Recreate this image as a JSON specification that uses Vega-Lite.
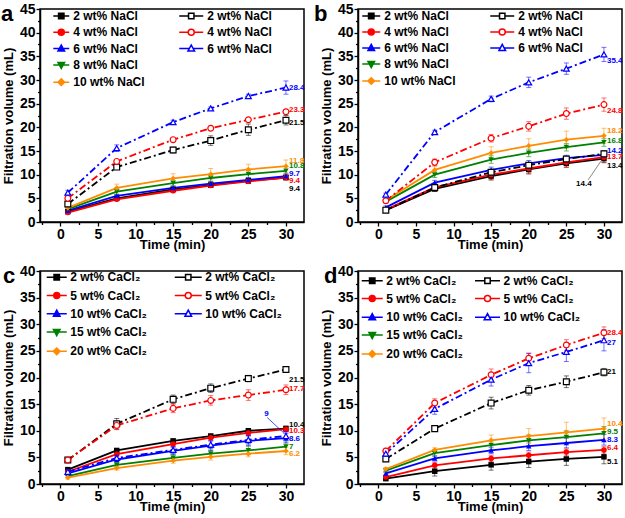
{
"$schema": "https://vega.github.io/schema/vega-lite/v6.json",
"background": "white",
"padding": {"left": 0, "top": 1, "right": 0, "bottom": 0},
"columns": 2,
"spacing": {"row": 49, "column": 54},
"bounds": "flush",
"config": {
  "font": "Liberation Sans",
  "view": {"stroke": "black", "strokeWidth": 1.5},
  "axis": {"domainColor": "black", "domainWidth": 1.5, "tickColor": "black", "tickWidth": 1.3, "labelColor": "black", "labelFont": "Liberation Sans", "labelFontWeight": "bold", "labelFontSize": 14, "titleFont": "Liberation Sans", "titleFontWeight": "bold", "titleFontSize": 13, "titleColor": "black", "grid": false, "labelOverlap": false, "labelFlush": false, "labelPadding": 1},
  "legend": {"labelFont": "Liberation Sans", "labelFontWeight": "bold", "labelFontSize": 12, "labelColor": "black", "padding": 0, "symbolSize": 144, "symbolStrokeWidth": 1.5, "symbolOpacity": 1, "symbolOffset": 0, "title": null, "orient": "none", "columns": 2},
  "title": {"font": "Liberation Sans", "fontSize": 22, "fontWeight": "bold", "color": "black", "anchor": "start", "frame": "group", "baseline": "alphabetic", "offset": -24},
  "text": {"font": "Liberation Sans"}
},
"datasets": {
"pts": [
{"p":"a","g":"s","s":"2 wt% NaCl","t":1,"v":2.2,"e":0.2},{"p":"a","g":"s","s":"2 wt% NaCl","t":7.5,"v":5.0,"e":0.3},{"p":"a","g":"s","s":"2 wt% NaCl","t":15,"v":6.9,"e":0.4},{"p":"a","g":"s","s":"2 wt% NaCl","t":20,"v":7.8,"e":0.4},{"p":"a","g":"s","s":"2 wt% NaCl","t":25,"v":8.7,"e":0.5},{"p":"a","g":"s","s":"2 wt% NaCl","t":30,"v":9.4,"e":0.5},
{"p":"a","g":"s","s":"4 wt% NaCl","t":1,"v":2.0,"e":0.2},{"p":"a","g":"s","s":"4 wt% NaCl","t":7.5,"v":4.8,"e":0.3},{"p":"a","g":"s","s":"4 wt% NaCl","t":15,"v":6.6,"e":0.4},{"p":"a","g":"s","s":"4 wt% NaCl","t":20,"v":7.7,"e":0.4},{"p":"a","g":"s","s":"4 wt% NaCl","t":25,"v":8.6,"e":0.5},{"p":"a","g":"s","s":"4 wt% NaCl","t":30,"v":9.4,"e":0.5},
{"p":"a","g":"s","s":"6 wt% NaCl","t":1,"v":2.4,"e":0.2},{"p":"a","g":"s","s":"6 wt% NaCl","t":7.5,"v":5.5,"e":0.3},{"p":"a","g":"s","s":"6 wt% NaCl","t":15,"v":7.2,"e":0.4},{"p":"a","g":"s","s":"6 wt% NaCl","t":20,"v":8.1,"e":0.4},{"p":"a","g":"s","s":"6 wt% NaCl","t":25,"v":8.9,"e":0.5},{"p":"a","g":"s","s":"6 wt% NaCl","t":30,"v":9.7,"e":0.5},
{"p":"a","g":"s","s":"8 wt% NaCl","t":1,"v":2.7,"e":0.3},{"p":"a","g":"s","s":"8 wt% NaCl","t":7.5,"v":6.4,"e":0.5},{"p":"a","g":"s","s":"8 wt% NaCl","t":15,"v":8.2,"e":0.6},{"p":"a","g":"s","s":"8 wt% NaCl","t":20,"v":9.3,"e":0.7},{"p":"a","g":"s","s":"8 wt% NaCl","t":25,"v":10.1,"e":0.8},{"p":"a","g":"s","s":"8 wt% NaCl","t":30,"v":10.8,"e":0.9},
{"p":"a","g":"s","s":"10 wt% NaCl","t":1,"v":3.0,"e":0.3},{"p":"a","g":"s","s":"10 wt% NaCl","t":7.5,"v":7.2,"e":0.8},{"p":"a","g":"s","s":"10 wt% NaCl","t":15,"v":9.2,"e":1.0},{"p":"a","g":"s","s":"10 wt% NaCl","t":20,"v":10.1,"e":1.2},{"p":"a","g":"s","s":"10 wt% NaCl","t":25,"v":11.1,"e":1.1},{"p":"a","g":"s","s":"10 wt% NaCl","t":30,"v":11.8,"e":1.3},
{"p":"a","g":"o","s":"2 wt% NaCl","t":1,"v":3.8,"e":0.3},{"p":"a","g":"o","s":"2 wt% NaCl","t":7.5,"v":11.6,"e":0.5},{"p":"a","g":"o","s":"2 wt% NaCl","t":15,"v":15.2,"e":0.6},{"p":"a","g":"o","s":"2 wt% NaCl","t":20,"v":17.2,"e":1.0},{"p":"a","g":"o","s":"2 wt% NaCl","t":25,"v":19.5,"e":1.2},{"p":"a","g":"o","s":"2 wt% NaCl","t":30,"v":21.5,"e":1.0},
{"p":"a","g":"o","s":"4 wt% NaCl","t":1,"v":5.0,"e":0.3},{"p":"a","g":"o","s":"4 wt% NaCl","t":7.5,"v":12.8,"e":0.3},{"p":"a","g":"o","s":"4 wt% NaCl","t":15,"v":17.4,"e":0.4},{"p":"a","g":"o","s":"4 wt% NaCl","t":20,"v":19.8,"e":0.4},{"p":"a","g":"o","s":"4 wt% NaCl","t":25,"v":21.6,"e":0.3},{"p":"a","g":"o","s":"4 wt% NaCl","t":30,"v":23.3,"e":0.4},
{"p":"a","g":"o","s":"6 wt% NaCl","t":1,"v":6.2,"e":0.5},{"p":"a","g":"o","s":"6 wt% NaCl","t":7.5,"v":15.6,"e":0.7},{"p":"a","g":"o","s":"6 wt% NaCl","t":15,"v":21.1,"e":0.4},{"p":"a","g":"o","s":"6 wt% NaCl","t":20,"v":24.0,"e":0.3},{"p":"a","g":"o","s":"6 wt% NaCl","t":25,"v":26.6,"e":0.4},{"p":"a","g":"o","s":"6 wt% NaCl","t":30,"v":28.4,"e":1.4},

{"p":"b","g":"s","s":"2 wt% NaCl","t":1,"v":2.5,"e":0.3},{"p":"b","g":"s","s":"2 wt% NaCl","t":7.5,"v":7.0,"e":0.5},{"p":"b","g":"s","s":"2 wt% NaCl","t":15,"v":9.7,"e":0.8},{"p":"b","g":"s","s":"2 wt% NaCl","t":20,"v":11.1,"e":0.8},{"p":"b","g":"s","s":"2 wt% NaCl","t":25,"v":12.4,"e":0.8},{"p":"b","g":"s","s":"2 wt% NaCl","t":30,"v":13.4,"e":0.8},
{"p":"b","g":"s","s":"4 wt% NaCl","t":1,"v":2.6,"e":0.3},{"p":"b","g":"s","s":"4 wt% NaCl","t":7.5,"v":7.3,"e":0.8},{"p":"b","g":"s","s":"4 wt% NaCl","t":15,"v":10.0,"e":1.1},{"p":"b","g":"s","s":"4 wt% NaCl","t":20,"v":11.3,"e":1.2},{"p":"b","g":"s","s":"4 wt% NaCl","t":25,"v":12.6,"e":1.1},{"p":"b","g":"s","s":"4 wt% NaCl","t":30,"v":13.7,"e":1.2},
{"p":"b","g":"s","s":"6 wt% NaCl","t":1,"v":3.1,"e":0.3},{"p":"b","g":"s","s":"6 wt% NaCl","t":7.5,"v":8.3,"e":0.5},{"p":"b","g":"s","s":"6 wt% NaCl","t":15,"v":11.0,"e":0.6},{"p":"b","g":"s","s":"6 wt% NaCl","t":20,"v":12.4,"e":0.6},{"p":"b","g":"s","s":"6 wt% NaCl","t":25,"v":13.5,"e":0.6},{"p":"b","g":"s","s":"6 wt% NaCl","t":30,"v":14.2,"e":0.8},
{"p":"b","g":"s","s":"8 wt% NaCl","t":1,"v":4.3,"e":0.3},{"p":"b","g":"s","s":"8 wt% NaCl","t":7.5,"v":10.0,"e":0.6},{"p":"b","g":"s","s":"8 wt% NaCl","t":15,"v":13.2,"e":0.8},{"p":"b","g":"s","s":"8 wt% NaCl","t":20,"v":14.6,"e":0.8},{"p":"b","g":"s","s":"8 wt% NaCl","t":25,"v":15.8,"e":0.8},{"p":"b","g":"s","s":"8 wt% NaCl","t":30,"v":16.8,"e":0.8},
{"p":"b","g":"s","s":"10 wt% NaCl","t":1,"v":4.6,"e":0.3},{"p":"b","g":"s","s":"10 wt% NaCl","t":7.5,"v":11.0,"e":0.8},{"p":"b","g":"s","s":"10 wt% NaCl","t":15,"v":14.6,"e":1.3},{"p":"b","g":"s","s":"10 wt% NaCl","t":20,"v":16.1,"e":1.5},{"p":"b","g":"s","s":"10 wt% NaCl","t":25,"v":17.4,"e":1.8},{"p":"b","g":"s","s":"10 wt% NaCl","t":30,"v":18.2,"e":1.6},
{"p":"b","g":"o","s":"2 wt% NaCl","t":1,"v":2.5,"e":0.3},{"p":"b","g":"o","s":"2 wt% NaCl","t":7.5,"v":7.3,"e":0.4},{"p":"b","g":"o","s":"2 wt% NaCl","t":15,"v":10.5,"e":0.5},{"p":"b","g":"o","s":"2 wt% NaCl","t":20,"v":12.0,"e":0.5},{"p":"b","g":"o","s":"2 wt% NaCl","t":25,"v":13.3,"e":0.5},{"p":"b","g":"o","s":"2 wt% NaCl","t":30,"v":14.4,"e":0.6},
{"p":"b","g":"o","s":"4 wt% NaCl","t":1,"v":4.5,"e":0.4},{"p":"b","g":"o","s":"4 wt% NaCl","t":7.5,"v":12.6,"e":0.7},{"p":"b","g":"o","s":"4 wt% NaCl","t":15,"v":17.7,"e":0.8},{"p":"b","g":"o","s":"4 wt% NaCl","t":20,"v":20.2,"e":1.0},{"p":"b","g":"o","s":"4 wt% NaCl","t":25,"v":22.9,"e":1.2},{"p":"b","g":"o","s":"4 wt% NaCl","t":30,"v":24.8,"e":1.4},
{"p":"b","g":"o","s":"6 wt% NaCl","t":1,"v":5.8,"e":0.3},{"p":"b","g":"o","s":"6 wt% NaCl","t":7.5,"v":19.0,"e":0.4},{"p":"b","g":"o","s":"6 wt% NaCl","t":15,"v":26.0,"e":0.6},{"p":"b","g":"o","s":"6 wt% NaCl","t":20,"v":29.5,"e":1.1},{"p":"b","g":"o","s":"6 wt% NaCl","t":25,"v":32.4,"e":1.2},{"p":"b","g":"o","s":"6 wt% NaCl","t":30,"v":35.4,"e":1.5},

{"p":"c","g":"s","s":"2 wt% CaCl₂","t":1,"v":2.7,"e":0.2},{"p":"c","g":"s","s":"2 wt% CaCl₂","t":7.5,"v":6.3,"e":0.3},{"p":"c","g":"s","s":"2 wt% CaCl₂","t":15,"v":8.1,"e":0.3},{"p":"c","g":"s","s":"2 wt% CaCl₂","t":20,"v":9.0,"e":0.4},{"p":"c","g":"s","s":"2 wt% CaCl₂","t":25,"v":10.0,"e":0.4},{"p":"c","g":"s","s":"2 wt% CaCl₂","t":30,"v":10.4,"e":0.5},
{"p":"c","g":"s","s":"5 wt% CaCl₂","t":1,"v":2.3,"e":0.2},{"p":"c","g":"s","s":"5 wt% CaCl₂","t":7.5,"v":5.6,"e":0.3},{"p":"c","g":"s","s":"5 wt% CaCl₂","t":15,"v":7.5,"e":0.4},{"p":"c","g":"s","s":"5 wt% CaCl₂","t":20,"v":8.7,"e":0.4},{"p":"c","g":"s","s":"5 wt% CaCl₂","t":25,"v":9.6,"e":0.5},{"p":"c","g":"s","s":"5 wt% CaCl₂","t":30,"v":10.3,"e":0.5},
{"p":"c","g":"s","s":"10 wt% CaCl₂","t":1,"v":2.0,"e":0.3},{"p":"c","g":"s","s":"10 wt% CaCl₂","t":7.5,"v":4.6,"e":0.5},{"p":"c","g":"s","s":"10 wt% CaCl₂","t":15,"v":6.2,"e":0.7},{"p":"c","g":"s","s":"10 wt% CaCl₂","t":20,"v":7.2,"e":0.9},{"p":"c","g":"s","s":"10 wt% CaCl₂","t":25,"v":8.1,"e":0.9},{"p":"c","g":"s","s":"10 wt% CaCl₂","t":30,"v":8.6,"e":0.9},
{"p":"c","g":"s","s":"15 wt% CaCl₂","t":1,"v":1.5,"e":0.3},{"p":"c","g":"s","s":"15 wt% CaCl₂","t":7.5,"v":3.6,"e":0.4},{"p":"c","g":"s","s":"15 wt% CaCl₂","t":15,"v":4.9,"e":0.6},{"p":"c","g":"s","s":"15 wt% CaCl₂","t":20,"v":5.7,"e":0.7},{"p":"c","g":"s","s":"15 wt% CaCl₂","t":25,"v":6.3,"e":0.8},{"p":"c","g":"s","s":"15 wt% CaCl₂","t":30,"v":7.0,"e":0.9},
{"p":"c","g":"s","s":"20 wt% CaCl₂","t":1,"v":1.2,"e":0.3},{"p":"c","g":"s","s":"20 wt% CaCl₂","t":7.5,"v":3.0,"e":0.4},{"p":"c","g":"s","s":"20 wt% CaCl₂","t":15,"v":4.4,"e":0.5},{"p":"c","g":"s","s":"20 wt% CaCl₂","t":20,"v":5.1,"e":0.6},{"p":"c","g":"s","s":"20 wt% CaCl₂","t":25,"v":5.7,"e":0.6},{"p":"c","g":"s","s":"20 wt% CaCl₂","t":30,"v":6.2,"e":0.7},
{"p":"c","g":"o","s":"2 wt% CaCl₂","t":1,"v":4.5,"e":0.3},{"p":"c","g":"o","s":"2 wt% CaCl₂","t":7.5,"v":11.3,"e":1.0},{"p":"c","g":"o","s":"2 wt% CaCl₂","t":15,"v":15.9,"e":0.8},{"p":"c","g":"o","s":"2 wt% CaCl₂","t":20,"v":18.0,"e":0.8},{"p":"c","g":"o","s":"2 wt% CaCl₂","t":25,"v":19.8,"e":0.6},{"p":"c","g":"o","s":"2 wt% CaCl₂","t":30,"v":21.5,"e":0.4},
{"p":"c","g":"o","s":"5 wt% CaCl₂","t":1,"v":4.5,"e":0.3},{"p":"c","g":"o","s":"5 wt% CaCl₂","t":7.5,"v":11.0,"e":0.8},{"p":"c","g":"o","s":"5 wt% CaCl₂","t":15,"v":14.2,"e":0.8},{"p":"c","g":"o","s":"5 wt% CaCl₂","t":20,"v":15.7,"e":0.9},{"p":"c","g":"o","s":"5 wt% CaCl₂","t":25,"v":16.7,"e":1.0},{"p":"c","g":"o","s":"5 wt% CaCl₂","t":30,"v":17.7,"e":0.9},
{"p":"c","g":"o","s":"10 wt% CaCl₂","t":1,"v":2.3,"e":0.3},{"p":"c","g":"o","s":"10 wt% CaCl₂","t":7.5,"v":4.9,"e":0.5},{"p":"c","g":"o","s":"10 wt% CaCl₂","t":15,"v":6.4,"e":0.6},{"p":"c","g":"o","s":"10 wt% CaCl₂","t":20,"v":7.4,"e":0.7},{"p":"c","g":"o","s":"10 wt% CaCl₂","t":25,"v":8.3,"e":0.8},{"p":"c","g":"o","s":"10 wt% CaCl₂","t":30,"v":9.0,"e":0.8},

{"p":"d","g":"s","s":"2 wt% CaCl₂","t":1,"v":1.0,"e":0.3},{"p":"d","g":"s","s":"2 wt% CaCl₂","t":7.5,"v":2.4,"e":0.9},{"p":"d","g":"s","s":"2 wt% CaCl₂","t":15,"v":3.6,"e":1.0},{"p":"d","g":"s","s":"2 wt% CaCl₂","t":20,"v":4.2,"e":1.1},{"p":"d","g":"s","s":"2 wt% CaCl₂","t":25,"v":4.7,"e":1.2},{"p":"d","g":"s","s":"2 wt% CaCl₂","t":30,"v":5.1,"e":1.3},
{"p":"d","g":"s","s":"5 wt% CaCl₂","t":1,"v":1.3,"e":0.3},{"p":"d","g":"s","s":"5 wt% CaCl₂","t":7.5,"v":3.5,"e":0.5},{"p":"d","g":"s","s":"5 wt% CaCl₂","t":15,"v":4.8,"e":0.6},{"p":"d","g":"s","s":"5 wt% CaCl₂","t":20,"v":5.4,"e":0.6},{"p":"d","g":"s","s":"5 wt% CaCl₂","t":25,"v":6.0,"e":0.6},{"p":"d","g":"s","s":"5 wt% CaCl₂","t":30,"v":6.4,"e":0.6},
{"p":"d","g":"s","s":"10 wt% CaCl₂","t":1,"v":2.0,"e":0.3},{"p":"d","g":"s","s":"10 wt% CaCl₂","t":7.5,"v":4.8,"e":0.5},{"p":"d","g":"s","s":"10 wt% CaCl₂","t":15,"v":6.3,"e":0.6},{"p":"d","g":"s","s":"10 wt% CaCl₂","t":20,"v":7.1,"e":0.8},{"p":"d","g":"s","s":"10 wt% CaCl₂","t":25,"v":7.7,"e":0.9},{"p":"d","g":"s","s":"10 wt% CaCl₂","t":30,"v":8.3,"e":1.0},
{"p":"d","g":"s","s":"15 wt% CaCl₂","t":1,"v":2.5,"e":0.3},{"p":"d","g":"s","s":"15 wt% CaCl₂","t":7.5,"v":5.8,"e":0.6},{"p":"d","g":"s","s":"15 wt% CaCl₂","t":15,"v":7.3,"e":0.8},{"p":"d","g":"s","s":"15 wt% CaCl₂","t":20,"v":8.2,"e":1.0},{"p":"d","g":"s","s":"15 wt% CaCl₂","t":25,"v":8.8,"e":1.2},{"p":"d","g":"s","s":"15 wt% CaCl₂","t":30,"v":9.5,"e":1.3},
{"p":"d","g":"s","s":"20 wt% CaCl₂","t":1,"v":2.8,"e":0.3},{"p":"d","g":"s","s":"20 wt% CaCl₂","t":7.5,"v":6.4,"e":0.4},{"p":"d","g":"s","s":"20 wt% CaCl₂","t":15,"v":8.2,"e":1.0},{"p":"d","g":"s","s":"20 wt% CaCl₂","t":20,"v":9.0,"e":1.4},{"p":"d","g":"s","s":"20 wt% CaCl₂","t":25,"v":9.7,"e":1.9},{"p":"d","g":"s","s":"20 wt% CaCl₂","t":30,"v":10.4,"e":2.0},
{"p":"d","g":"o","s":"2 wt% CaCl₂","t":1,"v":4.7,"e":0.5},{"p":"d","g":"o","s":"2 wt% CaCl₂","t":7.5,"v":10.4,"e":0.5},{"p":"d","g":"o","s":"2 wt% CaCl₂","t":15,"v":15.2,"e":1.1},{"p":"d","g":"o","s":"2 wt% CaCl₂","t":20,"v":17.6,"e":0.9},{"p":"d","g":"o","s":"2 wt% CaCl₂","t":25,"v":19.2,"e":1.1},{"p":"d","g":"o","s":"2 wt% CaCl₂","t":30,"v":21.0,"e":0.7},
{"p":"d","g":"o","s":"5 wt% CaCl₂","t":1,"v":6.2,"e":0.5},{"p":"d","g":"o","s":"5 wt% CaCl₂","t":7.5,"v":15.2,"e":0.8},{"p":"d","g":"o","s":"5 wt% CaCl₂","t":15,"v":20.5,"e":1.1},{"p":"d","g":"o","s":"5 wt% CaCl₂","t":20,"v":23.6,"e":1.0},{"p":"d","g":"o","s":"5 wt% CaCl₂","t":25,"v":26.1,"e":1.0},{"p":"d","g":"o","s":"5 wt% CaCl₂","t":30,"v":28.4,"e":1.1},
{"p":"d","g":"o","s":"10 wt% CaCl₂","t":1,"v":5.7,"e":0.5},{"p":"d","g":"o","s":"10 wt% CaCl₂","t":7.5,"v":14.1,"e":1.0},{"p":"d","g":"o","s":"10 wt% CaCl₂","t":15,"v":19.6,"e":1.2},{"p":"d","g":"o","s":"10 wt% CaCl₂","t":20,"v":22.7,"e":1.8},{"p":"d","g":"o","s":"10 wt% CaCl₂","t":25,"v":24.8,"e":1.8},{"p":"d","g":"o","s":"10 wt% CaCl₂","t":30,"v":27.0,"e":2.0}
],
"lab": [
{"p":"a","s":"6 wt% NaCl","txt":"28.4","t":30,"v":28.3},{"p":"a","s":"4 wt% NaCl","txt":"23.3","t":30,"v":23.7},{"p":"a","s":"2 wt% NaCl","txt":"21.5","t":30,"v":20.9},{"p":"a","s":"10 wt% NaCl","txt":"11.8","t":30,"v":12.8},{"p":"a","s":"8 wt% NaCl","txt":"10.8","t":30,"v":11.75},{"p":"a","s":"6 wt% NaCl","txt":"9.7","t":30,"v":10.2},{"p":"a","s":"4 wt% NaCl","txt":"9.4","t":30,"v":8.65},{"p":"a","s":"2 wt% NaCl","txt":"9.4","t":30,"v":7.0},
{"p":"b","s":"6 wt% NaCl","txt":"35.4","t":30,"v":34.1},{"p":"b","s":"4 wt% NaCl","txt":"24.8","t":30,"v":23.5},{"p":"b","s":"10 wt% NaCl","txt":"18.2","t":30,"v":19.2},{"p":"b","s":"8 wt% NaCl","txt":"16.8","t":30,"v":17.2},{"p":"b","s":"6 wt% NaCl","txt":"14.2","t":30,"v":15.1},{"p":"b","s":"4 wt% NaCl","txt":"13.7","t":30,"v":13.7},{"p":"b","s":"2 wt% NaCl","txt":"13.4","t":30,"v":11.9},{"p":"b","s":"2 wt% NaCl","txt":"14.4","t":25.9,"v":8.0},
{"p":"c","s":"2 wt% CaCl₂","txt":"21.5","t":30,"v":19.6},{"p":"c","s":"5 wt% CaCl₂","txt":"17.7","t":30,"v":17.8},{"p":"c","s":"2 wt% CaCl₂","txt":"10.4","t":30,"v":11.0},{"p":"c","s":"5 wt% CaCl₂","txt":"10.3","t":30,"v":9.9},{"p":"c","s":"10 wt% CaCl₂","txt":"8.6","t":30,"v":8.4},{"p":"c","s":"15 wt% CaCl₂","txt":"7","t":30,"v":7.0},{"p":"c","s":"20 wt% CaCl₂","txt":"6.2","t":30,"v":5.6},{"p":"c","s":"10 wt% CaCl₂","txt":"9","t":26.7,"v":13.1},
{"p":"d","s":"5 wt% CaCl₂","txt":"28.4","t":30,"v":28.3},{"p":"d","s":"10 wt% CaCl₂","txt":"27","t":30,"v":26.4},{"p":"d","s":"2 wt% CaCl₂","txt":"21","t":30,"v":21.1},{"p":"d","s":"20 wt% CaCl₂","txt":"10.4","t":30,"v":11.25},{"p":"d","s":"15 wt% CaCl₂","txt":"9.5","t":30,"v":9.75},{"p":"d","s":"10 wt% CaCl₂","txt":"8.3","t":30,"v":8.2},{"p":"d","s":"5 wt% CaCl₂","txt":"6.4","t":30,"v":6.7},{"p":"d","s":"2 wt% CaCl₂","txt":"5.1","t":30,"v":4.2}
],
"ann": [
{"p":"b","t":27.9,"v":8.9,"t2":29.8,"v2":13.3},
{"p":"c","t":27.5,"v":12.5,"t2":29.7,"v2":9.6}
]
},
"concat": [
{
 "width": 264, "height": 213,
 "title": {"text": "a", "dx": -39},
 "encoding": {
  "x": {"field": "t", "type": "quantitative", "scale": {"domain": [-2.7, 32.4], "nice": false, "zero": false}, "axis": {"title": "Time (min)", "values": [-2.5,0,2.5,5,7.5,10,12.5,15,17.5,20,22.5,25,27.5,30], "labelExpr": "datum.value % 5 === 0 ? datum.label : ''", "tickSize": {"condition": {"test": "datum.value % 5 !== 0", "value": 2.5}, "value": 4}, "titlePadding": -3}},
  "y": {"field": "v", "type": "quantitative", "scale": {"domain": [0, 45], "nice": false}, "axis": {"title": "Filtration volume (mL)", "values": [0,2.5,5,7.5,10,12.5,15,17.5,20,22.5,25,27.5,30,32.5,35,37.5,40,42.5,45], "labelExpr": "datum.value % 5 === 0 ? datum.label : ''", "tickSize": {"condition": {"test": "datum.value % 5 !== 0", "value": 2.5}, "value": 4}, "titlePadding": 4}}
 },
 "layer": [
  {"data": {"name": "pts"}, "transform": [{"filter": "datum.p=='a' && datum.g=='s'"}], "mark": {"type": "errorbar", "ticks": {"size": 5}, "opacity": 0.55, "thickness": 1},
   "encoding": {"yError": {"field": "e"}, "color": {"field": "s", "type": "nominal", "scale": {"domain": ["2 wt% NaCl","4 wt% NaCl","6 wt% NaCl","8 wt% NaCl","10 wt% NaCl"], "range": ["#000000","#ff0000","#0000ff","#008000","#ff8c00"]}, "legend": null}}},
  {"data": {"name": "pts"}, "transform": [{"filter": "datum.p=='a' && datum.g=='s'"}], "mark": {"type": "line", "strokeWidth": 1.8},
   "encoding": {"color": {"field": "s", "type": "nominal", "scale": {"domain": ["2 wt% NaCl","4 wt% NaCl","6 wt% NaCl","8 wt% NaCl","10 wt% NaCl"], "range": ["#000000","#ff0000","#0000ff","#008000","#ff8c00"]}, "legend": null}}},
  {"data": {"name": "pts"}, "transform": [{"filter": "datum.p=='a' && datum.g=='s'"}], "mark": {"type": "point", "filled": true, "size": 30, "opacity": 1},
   "encoding": {
     "color": {"field": "s", "type": "nominal", "scale": {"domain": ["2 wt% NaCl","4 wt% NaCl","6 wt% NaCl","8 wt% NaCl","10 wt% NaCl"], "range": ["#000000","#ff0000","#0000ff","#008000","#ff8c00"]}, "legend": null},
     "shape": {"field": "s", "type": "nominal", "scale": {"domain": ["2 wt% NaCl","4 wt% NaCl","6 wt% NaCl","8 wt% NaCl","10 wt% NaCl"], "range": ["square","circle","triangle-up","triangle-down","diamond"]}, "legend": null}}},
  {"data": {"name": "pts"}, "transform": [{"filter": "datum.p=='a' && datum.g=='o'"}], "mark": {"type": "errorbar", "ticks": {"size": 5}, "opacity": 0.55, "thickness": 1},
   "encoding": {"yError": {"field": "e"}, "color": {"field": "s", "type": "nominal", "scale": {"domain": ["2 wt% NaCl","4 wt% NaCl","6 wt% NaCl"], "range": ["#000000","#ff0000","#0000ff"]}, "legend": null}}},
  {"data": {"name": "pts"}, "transform": [{"filter": "datum.p=='a' && datum.g=='o'"}], "mark": {"type": "line", "strokeWidth": 1.8, "strokeDash": [7,3,2,3]},
   "encoding": {"color": {"field": "s", "type": "nominal", "scale": {"domain": ["2 wt% NaCl","4 wt% NaCl","6 wt% NaCl"], "range": ["#000000","#ff0000","#0000ff"]}, "legend": null}}},
  {"data": {"name": "pts"}, "transform": [{"filter": "datum.p=='a' && datum.g=='o'"}], "mark": {"type": "point", "filled": false, "fill": "white", "fillOpacity": 1, "size": 34, "strokeWidth": 1.2, "opacity": 1},
   "encoding": {
     "color": {"field": "s", "type": "nominal", "scale": {"domain": ["2 wt% NaCl","4 wt% NaCl","6 wt% NaCl"], "range": ["#000000","#ff0000","#0000ff"]}, "legend": null},
     "shape": {"field": "s", "type": "nominal", "scale": {"domain": ["2 wt% NaCl","4 wt% NaCl","6 wt% NaCl"], "range": ["square","circle","triangle-up"]}, "legend": null}}},
  {"data": {"name": "pts"}, "transform": [{"filter": "false"}], "mark": {"type": "point", "filled": true},
   "encoding": {
     "fill": {"field": "s", "type": "nominal", "scale": {"domain": ["s:2 wt% NaCl","s:4 wt% NaCl","s:6 wt% NaCl","s:8 wt% NaCl","s:10 wt% NaCl","o:2 wt% NaCl","o:4 wt% NaCl","o:6 wt% NaCl","x:"], "range": ["#000000","#ff0000","#0000ff","#008000","#ff8c00","#ffffff","#ffffff","#ffffff","transparent"]}, "legend": {"legendX": 10.25, "legendY": 0, "labelOffset": 9, "columnPadding": 31, "rowPadding": 3.3, "labelExpr": "slice(datum.label, 2)"}},
     "stroke": {"field": "s", "type": "nominal", "scale": {"domain": ["s:2 wt% NaCl","s:4 wt% NaCl","s:6 wt% NaCl","s:8 wt% NaCl","s:10 wt% NaCl","o:2 wt% NaCl","o:4 wt% NaCl","o:6 wt% NaCl","x:"], "range": ["#000000","#ff0000","#0000ff","#008000","#ff8c00","#000000","#ff0000","#0000ff","transparent"]}, "legend": {"legendX": 10.25, "legendY": 0, "labelOffset": 9, "columnPadding": 31, "rowPadding": 3.3, "labelExpr": "slice(datum.label, 2)"}},
     "shape": {"field": "s", "type": "nominal", "scale": {"domain": ["s:2 wt% NaCl","s:4 wt% NaCl","s:6 wt% NaCl","s:8 wt% NaCl","s:10 wt% NaCl","o:2 wt% NaCl","o:4 wt% NaCl","o:6 wt% NaCl","x:"], "range": [
       "M-0.66,0H0.22M1.12,0H2M0.22,-0.45H1.12V0.45H0.22Z",
       "M-0.66,0H0.17M1.17,0H2M1.17,0A0.5,0.5,0,1,1,0.17,0A0.5,0.5,0,1,1,1.17,0Z",
       "M-0.66,0H0.32M1.02,0H2M0.67,-0.6L1.22,0.42L0.12,0.42Z",
       "M-0.66,0H0.32M1.02,0H2M0.67,0.6L1.22,-0.42L0.12,-0.42Z",
       "M-0.66,0H0.12M1.22,0H2M0.67,-0.55L1.22,0L0.67,0.55L0.12,0Z",
       "M-2,0H-0.45M0.45,0H2M-0.45,-0.45H0.45V0.45H-0.45Z",
       "M-2,0H-0.5M0.5,0H2M0.5,0A0.5,0.5,0,1,1,-0.5,0A0.5,0.5,0,1,1,0.5,0Z",
       "M-2,0H-0.35M0.35,0H2M0,-0.6L0.55,0.42L-0.55,0.42Z",
       "M0,0"]}, "legend": {"legendX": 10.25, "legendY": 0, "labelOffset": 9, "columnPadding": 31, "rowPadding": 3.3, "labelExpr": "slice(datum.label, 2)"}}}},
  {"data": {"name": "lab"}, "transform": [{"filter": "datum.p=='a'"}], "mark": {"type": "text", "align": "left", "baseline": "middle", "dx": 3, "fontSize": 8, "fontWeight": "bold"},
   "encoding": {"text": {"field": "txt"}, "color": {"field": "s", "type": "nominal", "scale": {"domain": ["2 wt% NaCl","4 wt% NaCl","6 wt% NaCl","8 wt% NaCl","10 wt% NaCl"], "range": ["#000000","#ff0000","#0000ff","#008000","#ff8c00"]}, "legend": null}}},
  {"data": {"values": [{}]}, "mark": {"type": "text", "text": "Before aging", "align": "right", "baseline": "middle", "fontSize": 13, "fontWeight": "bold", "color": "black"},
   "encoding": {"x": {"datum": 31.2, "type": "quantitative"}, "y": {"datum": 3.2, "type": "quantitative"}}}
 ],
 "resolve": {"scale": {"color": "independent", "shape": "independent", "fill": "independent", "stroke": "independent"}, "legend": {"color": "independent", "shape": "independent", "fill": "independent", "stroke": "independent"}}
},
{
 "width": 264, "height": 213,
 "title": {"text": "b", "dx": -44},
 "encoding": {
  "x": {"field": "t", "type": "quantitative", "scale": {"domain": [-2.7, 32.4], "nice": false, "zero": false}, "axis": {"title": "Time (min)", "values": [-2.5,0,2.5,5,7.5,10,12.5,15,17.5,20,22.5,25,27.5,30], "labelExpr": "datum.value % 5 === 0 ? datum.label : ''", "tickSize": {"condition": {"test": "datum.value % 5 !== 0", "value": 2.5}, "value": 4}, "titlePadding": -3}},
  "y": {"field": "v", "type": "quantitative", "scale": {"domain": [0, 45], "nice": false}, "axis": {"title": "Filtration volume (mL)", "values": [0,2.5,5,7.5,10,12.5,15,17.5,20,22.5,25,27.5,30,32.5,35,37.5,40,42.5,45], "labelExpr": "datum.value % 5 === 0 ? datum.label : ''", "tickSize": {"condition": {"test": "datum.value % 5 !== 0", "value": 2.5}, "value": 4}, "titlePadding": 4}}
 },
 "layer": [
  {"data": {"name": "pts"}, "transform": [{"filter": "datum.p=='b' && datum.g=='s'"}], "mark": {"type": "errorbar", "ticks": {"size": 5}, "opacity": 0.55, "thickness": 1},
   "encoding": {"yError": {"field": "e"}, "color": {"field": "s", "type": "nominal", "scale": {"domain": ["2 wt% NaCl","4 wt% NaCl","6 wt% NaCl","8 wt% NaCl","10 wt% NaCl"], "range": ["#000000","#ff0000","#0000ff","#008000","#ff8c00"]}, "legend": null}}},
  {"data": {"name": "pts"}, "transform": [{"filter": "datum.p=='b' && datum.g=='s'"}], "mark": {"type": "line", "strokeWidth": 1.8},
   "encoding": {"color": {"field": "s", "type": "nominal", "scale": {"domain": ["2 wt% NaCl","4 wt% NaCl","6 wt% NaCl","8 wt% NaCl","10 wt% NaCl"], "range": ["#000000","#ff0000","#0000ff","#008000","#ff8c00"]}, "legend": null}}},
  {"data": {"name": "pts"}, "transform": [{"filter": "datum.p=='b' && datum.g=='s'"}], "mark": {"type": "point", "filled": true, "size": 30, "opacity": 1},
   "encoding": {
     "color": {"field": "s", "type": "nominal", "scale": {"domain": ["2 wt% NaCl","4 wt% NaCl","6 wt% NaCl","8 wt% NaCl","10 wt% NaCl"], "range": ["#000000","#ff0000","#0000ff","#008000","#ff8c00"]}, "legend": null},
     "shape": {"field": "s", "type": "nominal", "scale": {"domain": ["2 wt% NaCl","4 wt% NaCl","6 wt% NaCl","8 wt% NaCl","10 wt% NaCl"], "range": ["square","circle","triangle-up","triangle-down","diamond"]}, "legend": null}}},
  {"data": {"name": "pts"}, "transform": [{"filter": "datum.p=='b' && datum.g=='o'"}], "mark": {"type": "errorbar", "ticks": {"size": 5}, "opacity": 0.55, "thickness": 1},
   "encoding": {"yError": {"field": "e"}, "color": {"field": "s", "type": "nominal", "scale": {"domain": ["2 wt% NaCl","4 wt% NaCl","6 wt% NaCl"], "range": ["#000000","#ff0000","#0000ff"]}, "legend": null}}},
  {"data": {"name": "pts"}, "transform": [{"filter": "datum.p=='b' && datum.g=='o'"}], "mark": {"type": "line", "strokeWidth": 1.8, "strokeDash": [7,3,2,3]},
   "encoding": {"color": {"field": "s", "type": "nominal", "scale": {"domain": ["2 wt% NaCl","4 wt% NaCl","6 wt% NaCl"], "range": ["#000000","#ff0000","#0000ff"]}, "legend": null}}},
  {"data": {"name": "pts"}, "transform": [{"filter": "datum.p=='b' && datum.g=='o'"}], "mark": {"type": "point", "filled": false, "fill": "white", "fillOpacity": 1, "size": 34, "strokeWidth": 1.2, "opacity": 1},
   "encoding": {
     "color": {"field": "s", "type": "nominal", "scale": {"domain": ["2 wt% NaCl","4 wt% NaCl","6 wt% NaCl"], "range": ["#000000","#ff0000","#0000ff"]}, "legend": null},
     "shape": {"field": "s", "type": "nominal", "scale": {"domain": ["2 wt% NaCl","4 wt% NaCl","6 wt% NaCl"], "range": ["square","circle","triangle-up"]}, "legend": null}}},
  {"data": {"name": "pts"}, "transform": [{"filter": "false"}], "mark": {"type": "point", "filled": true},
   "encoding": {
     "fill": {"field": "s", "type": "nominal", "scale": {"domain": ["s:2 wt% NaCl","s:4 wt% NaCl","s:6 wt% NaCl","s:8 wt% NaCl","s:10 wt% NaCl","o:2 wt% NaCl","o:4 wt% NaCl","o:6 wt% NaCl","x:"], "range": ["#000000","#ff0000","#0000ff","#008000","#ff8c00","#ffffff","#ffffff","#ffffff","transparent"]}, "legend": {"legendX": 3.25, "legendY": 0, "labelOffset": 9, "columnPadding": 31, "rowPadding": 3, "labelExpr": "slice(datum.label, 2)"}},
     "stroke": {"field": "s", "type": "nominal", "scale": {"domain": ["s:2 wt% NaCl","s:4 wt% NaCl","s:6 wt% NaCl","s:8 wt% NaCl","s:10 wt% NaCl","o:2 wt% NaCl","o:4 wt% NaCl","o:6 wt% NaCl","x:"], "range": ["#000000","#ff0000","#0000ff","#008000","#ff8c00","#000000","#ff0000","#0000ff","transparent"]}, "legend": {"legendX": 3.25, "legendY": 0, "labelOffset": 9, "columnPadding": 31, "rowPadding": 3, "labelExpr": "slice(datum.label, 2)"}},
     "shape": {"field": "s", "type": "nominal", "scale": {"domain": ["s:2 wt% NaCl","s:4 wt% NaCl","s:6 wt% NaCl","s:8 wt% NaCl","s:10 wt% NaCl","o:2 wt% NaCl","o:4 wt% NaCl","o:6 wt% NaCl","x:"], "range": [
       "M-1,0H0.05M0.95,0H2M0.05,-0.45H0.95V0.45H0.05Z",
       "M-1,0H0M1,0H2M1,0A0.5,0.5,0,1,1,0,0A0.5,0.5,0,1,1,1,0Z",
       "M-1,0H0.15M0.85,0H2M0.5,-0.6L1.05,0.42L-0.05,0.42Z",
       "M-1,0H0.15M0.85,0H2M0.5,0.6L1.05,-0.42L-0.05,-0.42Z",
       "M-1,0H-0.05M1.05,0H2M0.5,-0.55L1.05,0L0.5,0.55L-0.05,0Z",
       "M-2,0H-0.45M0.45,0H2M-0.45,-0.45H0.45V0.45H-0.45Z",
       "M-2,0H-0.5M0.5,0H2M0.5,0A0.5,0.5,0,1,1,-0.5,0A0.5,0.5,0,1,1,0.5,0Z",
       "M-2,0H-0.35M0.35,0H2M0,-0.6L0.55,0.42L-0.55,0.42Z",
       "M0,0"]}, "legend": {"legendX": 3.25, "legendY": 0, "labelOffset": 9, "columnPadding": 31, "rowPadding": 3, "labelExpr": "slice(datum.label, 2)"}}}},
  {"data": {"name": "ann"}, "transform": [{"filter": "datum.p=='b'"}], "mark": {"type": "rule", "color": "#555555", "strokeWidth": 0.7},
   "encoding": {"x2": {"field": "t2"}, "y2": {"field": "v2"}}},
  {"data": {"name": "lab"}, "transform": [{"filter": "datum.p=='b'"}], "mark": {"type": "text", "align": "left", "baseline": "middle", "dx": 3, "fontSize": 8, "fontWeight": "bold"},
   "encoding": {"text": {"field": "txt"}, "color": {"field": "s", "type": "nominal", "scale": {"domain": ["2 wt% NaCl","4 wt% NaCl","6 wt% NaCl","8 wt% NaCl","10 wt% NaCl"], "range": ["#000000","#ff0000","#0000ff","#008000","#ff8c00"]}, "legend": null}}},
  {"data": {"values": [{}]}, "mark": {"type": "text", "text": "After aging at 150 ℃", "align": "right", "baseline": "middle", "fontSize": 13, "fontWeight": "bold", "color": "black"},
   "encoding": {"x": {"datum": 31.3, "type": "quantitative"}, "y": {"datum": 3.4, "type": "quantitative"}}}
 ],
 "resolve": {"scale": {"color": "independent", "shape": "independent", "fill": "independent", "stroke": "independent"}, "legend": {"color": "independent", "shape": "independent", "fill": "independent", "stroke": "independent"}}
},
{
 "width": 264, "height": 213,
 "title": {"text": "c", "dx": -37},
 "encoding": {
  "x": {"field": "t", "type": "quantitative", "scale": {"domain": [-2.7, 32.4], "nice": false, "zero": false}, "axis": {"title": "Time (min)", "values": [-2.5,0,2.5,5,7.5,10,12.5,15,17.5,20,22.5,25,27.5,30], "labelExpr": "datum.value % 5 === 0 ? datum.label : ''", "tickSize": {"condition": {"test": "datum.value % 5 !== 0", "value": 2.5}, "value": 4}, "titlePadding": -3}},
  "y": {"field": "v", "type": "quantitative", "scale": {"domain": [0, 40], "nice": false}, "axis": {"title": "Filtration volume (mL)", "values": [0,2.5,5,7.5,10,12.5,15,17.5,20,22.5,25,27.5,30,32.5,35,37.5,40], "labelExpr": "datum.value % 5 === 0 ? datum.label : ''", "tickSize": {"condition": {"test": "datum.value % 5 !== 0", "value": 2.5}, "value": 4}, "titlePadding": 4}}
 },
 "layer": [
  {"data": {"name": "pts"}, "transform": [{"filter": "datum.p=='c' && datum.g=='s'"}], "mark": {"type": "errorbar", "ticks": {"size": 5}, "opacity": 0.55, "thickness": 1},
   "encoding": {"yError": {"field": "e"}, "color": {"field": "s", "type": "nominal", "scale": {"domain": ["2 wt% CaCl₂","5 wt% CaCl₂","10 wt% CaCl₂","15 wt% CaCl₂","20 wt% CaCl₂"], "range": ["#000000","#ff0000","#0000ff","#008000","#ff8c00"]}, "legend": null}}},
  {"data": {"name": "pts"}, "transform": [{"filter": "datum.p=='c' && datum.g=='s'"}], "mark": {"type": "line", "strokeWidth": 1.8},
   "encoding": {"color": {"field": "s", "type": "nominal", "scale": {"domain": ["2 wt% CaCl₂","5 wt% CaCl₂","10 wt% CaCl₂","15 wt% CaCl₂","20 wt% CaCl₂"], "range": ["#000000","#ff0000","#0000ff","#008000","#ff8c00"]}, "legend": null}}},
  {"data": {"name": "pts"}, "transform": [{"filter": "datum.p=='c' && datum.g=='s'"}], "mark": {"type": "point", "filled": true, "size": 30, "opacity": 1},
   "encoding": {
     "color": {"field": "s", "type": "nominal", "scale": {"domain": ["2 wt% CaCl₂","5 wt% CaCl₂","10 wt% CaCl₂","15 wt% CaCl₂","20 wt% CaCl₂"], "range": ["#000000","#ff0000","#0000ff","#008000","#ff8c00"]}, "legend": null},
     "shape": {"field": "s", "type": "nominal", "scale": {"domain": ["2 wt% CaCl₂","5 wt% CaCl₂","10 wt% CaCl₂","15 wt% CaCl₂","20 wt% CaCl₂"], "range": ["square","circle","triangle-up","triangle-down","diamond"]}, "legend": null}}},
  {"data": {"name": "pts"}, "transform": [{"filter": "datum.p=='c' && datum.g=='o'"}], "mark": {"type": "errorbar", "ticks": {"size": 5}, "opacity": 0.55, "thickness": 1},
   "encoding": {"yError": {"field": "e"}, "color": {"field": "s", "type": "nominal", "scale": {"domain": ["2 wt% CaCl₂","5 wt% CaCl₂","10 wt% CaCl₂"], "range": ["#000000","#ff0000","#0000ff"]}, "legend": null}}},
  {"data": {"name": "pts"}, "transform": [{"filter": "datum.p=='c' && datum.g=='o'"}], "mark": {"type": "line", "strokeWidth": 1.8, "strokeDash": [7,3,2,3]},
   "encoding": {"color": {"field": "s", "type": "nominal", "scale": {"domain": ["2 wt% CaCl₂","5 wt% CaCl₂","10 wt% CaCl₂"], "range": ["#000000","#ff0000","#0000ff"]}, "legend": null}}},
  {"data": {"name": "pts"}, "transform": [{"filter": "datum.p=='c' && datum.g=='o'"}], "mark": {"type": "point", "filled": false, "fill": "white", "fillOpacity": 1, "size": 34, "strokeWidth": 1.2, "opacity": 1},
   "encoding": {
     "color": {"field": "s", "type": "nominal", "scale": {"domain": ["2 wt% CaCl₂","5 wt% CaCl₂","10 wt% CaCl₂"], "range": ["#000000","#ff0000","#0000ff"]}, "legend": null},
     "shape": {"field": "s", "type": "nominal", "scale": {"domain": ["2 wt% CaCl₂","5 wt% CaCl₂","10 wt% CaCl₂"], "range": ["square","circle","triangle-up"]}, "legend": null}}},
  {"data": {"name": "pts"}, "transform": [{"filter": "false"}], "mark": {"type": "point", "filled": true},
   "encoding": {
     "fill": {"field": "s", "type": "nominal", "scale": {"domain": ["s:2 wt% CaCl₂","s:5 wt% CaCl₂","s:10 wt% CaCl₂","s:15 wt% CaCl₂","s:20 wt% CaCl₂","o:2 wt% CaCl₂","o:5 wt% CaCl₂","o:10 wt% CaCl₂","x:"], "range": ["#000000","#ff0000","#0000ff","#008000","#ff8c00","#ffffff","#ffffff","#ffffff","transparent"]}, "legend": {"legendX": 6.25, "legendY": -0.7, "labelOffset": 10, "columnPadding": 24, "rowPadding": 5.25, "labelExpr": "slice(datum.label, 2)"}},
     "stroke": {"field": "s", "type": "nominal", "scale": {"domain": ["s:2 wt% CaCl₂","s:5 wt% CaCl₂","s:10 wt% CaCl₂","s:15 wt% CaCl₂","s:20 wt% CaCl₂","o:2 wt% CaCl₂","o:5 wt% CaCl₂","o:10 wt% CaCl₂","x:"], "range": ["#000000","#ff0000","#0000ff","#008000","#ff8c00","#000000","#ff0000","#0000ff","transparent"]}, "legend": {"legendX": 6.25, "legendY": -0.7, "labelOffset": 10, "columnPadding": 24, "rowPadding": 5.25, "labelExpr": "slice(datum.label, 2)"}},
     "shape": {"field": "s", "type": "nominal", "scale": {"domain": ["s:2 wt% CaCl₂","s:5 wt% CaCl₂","s:10 wt% CaCl₂","s:15 wt% CaCl₂","s:20 wt% CaCl₂","o:2 wt% CaCl₂","o:5 wt% CaCl₂","o:10 wt% CaCl₂","x:"], "range": [
       "M-1.09,0H0.13M1.03,0H2.25M0.13,-0.45H1.03V0.45H0.13Z",
       "M-1.09,0H0.08M1.08,0H2.25M1.08,0A0.5,0.5,0,1,1,0.08,0A0.5,0.5,0,1,1,1.08,0Z",
       "M-1.09,0H0.23M0.93,0H2.25M0.58,-0.6L1.13,0.42L0.03,0.42Z",
       "M-1.09,0H0.23M0.93,0H2.25M0.58,0.6L1.13,-0.42L0.03,-0.42Z",
       "M-1.09,0H0.03M1.13,0H2.25M0.58,-0.55L1.13,0L0.58,0.55L0.03,0Z",
       "M-2.25,0H-0.45M0.45,0H2.25M-0.45,-0.45H0.45V0.45H-0.45Z",
       "M-2.25,0H-0.5M0.5,0H2.25M0.5,0A0.5,0.5,0,1,1,-0.5,0A0.5,0.5,0,1,1,0.5,0Z",
       "M-2.25,0H-0.35M0.35,0H2.25M0,-0.6L0.55,0.42L-0.55,0.42Z",
       "M0,0"]}, "legend": {"legendX": 6.25, "legendY": -0.7, "labelOffset": 10, "columnPadding": 24, "rowPadding": 5.25, "labelExpr": "slice(datum.label, 2)"}}}},
  {"data": {"name": "ann"}, "transform": [{"filter": "datum.p=='c'"}], "mark": {"type": "rule", "color": "#0000ff", "strokeWidth": 0.7},
   "encoding": {"x2": {"field": "t2"}, "y2": {"field": "v2"}}},
  {"data": {"name": "lab"}, "transform": [{"filter": "datum.p=='c'"}], "mark": {"type": "text", "align": "left", "baseline": "middle", "dx": 3, "fontSize": 8, "fontWeight": "bold"},
   "encoding": {"text": {"field": "txt"}, "color": {"field": "s", "type": "nominal", "scale": {"domain": ["2 wt% CaCl₂","5 wt% CaCl₂","10 wt% CaCl₂","15 wt% CaCl₂","20 wt% CaCl₂"], "range": ["#000000","#ff0000","#0000ff","#008000","#ff8c00"]}, "legend": null}}},
  {"data": {"values": [{}]}, "mark": {"type": "text", "text": "Before aging", "align": "left", "baseline": "middle", "fontSize": 13, "fontWeight": "bold", "color": "black"},
   "encoding": {"x": {"datum": -1.3, "type": "quantitative"}, "y": {"datum": 20.5, "type": "quantitative"}}}
 ],
 "resolve": {"scale": {"color": "independent", "shape": "independent", "fill": "independent", "stroke": "independent"}, "legend": {"color": "independent", "shape": "independent", "fill": "independent", "stroke": "independent"}}
},
{
 "width": 264, "height": 213,
 "title": {"text": "d", "dx": -34},
 "encoding": {
  "x": {"field": "t", "type": "quantitative", "scale": {"domain": [-2.7, 32.4], "nice": false, "zero": false}, "axis": {"title": "Time (min)", "values": [-2.5,0,2.5,5,7.5,10,12.5,15,17.5,20,22.5,25,27.5,30], "labelExpr": "datum.value % 5 === 0 ? datum.label : ''", "tickSize": {"condition": {"test": "datum.value % 5 !== 0", "value": 2.5}, "value": 4}, "titlePadding": -3}},
  "y": {"field": "v", "type": "quantitative", "scale": {"domain": [0, 40], "nice": false}, "axis": {"title": "Filtration volume (mL)", "values": [0,2.5,5,7.5,10,12.5,15,17.5,20,22.5,25,27.5,30,32.5,35,37.5,40], "labelExpr": "datum.value % 5 === 0 ? datum.label : ''", "tickSize": {"condition": {"test": "datum.value % 5 !== 0", "value": 2.5}, "value": 4}, "titlePadding": 4}}
 },
 "layer": [
  {"data": {"name": "pts"}, "transform": [{"filter": "datum.p=='d' && datum.g=='s'"}], "mark": {"type": "errorbar", "ticks": {"size": 5}, "opacity": 0.55, "thickness": 1},
   "encoding": {"yError": {"field": "e"}, "color": {"field": "s", "type": "nominal", "scale": {"domain": ["2 wt% CaCl₂","5 wt% CaCl₂","10 wt% CaCl₂","15 wt% CaCl₂","20 wt% CaCl₂"], "range": ["#000000","#ff0000","#0000ff","#008000","#ff8c00"]}, "legend": null}}},
  {"data": {"name": "pts"}, "transform": [{"filter": "datum.p=='d' && datum.g=='s'"}], "mark": {"type": "line", "strokeWidth": 1.8},
   "encoding": {"color": {"field": "s", "type": "nominal", "scale": {"domain": ["2 wt% CaCl₂","5 wt% CaCl₂","10 wt% CaCl₂","15 wt% CaCl₂","20 wt% CaCl₂"], "range": ["#000000","#ff0000","#0000ff","#008000","#ff8c00"]}, "legend": null}}},
  {"data": {"name": "pts"}, "transform": [{"filter": "datum.p=='d' && datum.g=='s'"}], "mark": {"type": "point", "filled": true, "size": 30, "opacity": 1},
   "encoding": {
     "color": {"field": "s", "type": "nominal", "scale": {"domain": ["2 wt% CaCl₂","5 wt% CaCl₂","10 wt% CaCl₂","15 wt% CaCl₂","20 wt% CaCl₂"], "range": ["#000000","#ff0000","#0000ff","#008000","#ff8c00"]}, "legend": null},
     "shape": {"field": "s", "type": "nominal", "scale": {"domain": ["2 wt% CaCl₂","5 wt% CaCl₂","10 wt% CaCl₂","15 wt% CaCl₂","20 wt% CaCl₂"], "range": ["square","circle","triangle-up","triangle-down","diamond"]}, "legend": null}}},
  {"data": {"name": "pts"}, "transform": [{"filter": "datum.p=='d' && datum.g=='o'"}], "mark": {"type": "errorbar", "ticks": {"size": 5}, "opacity": 0.55, "thickness": 1},
   "encoding": {"yError": {"field": "e"}, "color": {"field": "s", "type": "nominal", "scale": {"domain": ["2 wt% CaCl₂","5 wt% CaCl₂","10 wt% CaCl₂"], "range": ["#000000","#ff0000","#0000ff"]}, "legend": null}}},
  {"data": {"name": "pts"}, "transform": [{"filter": "datum.p=='d' && datum.g=='o'"}], "mark": {"type": "line", "strokeWidth": 1.8, "strokeDash": [7,3,2,3]},
   "encoding": {"color": {"field": "s", "type": "nominal", "scale": {"domain": ["2 wt% CaCl₂","5 wt% CaCl₂","10 wt% CaCl₂"], "range": ["#000000","#ff0000","#0000ff"]}, "legend": null}}},
  {"data": {"name": "pts"}, "transform": [{"filter": "datum.p=='d' && datum.g=='o'"}], "mark": {"type": "point", "filled": false, "fill": "white", "fillOpacity": 1, "size": 34, "strokeWidth": 1.2, "opacity": 1},
   "encoding": {
     "color": {"field": "s", "type": "nominal", "scale": {"domain": ["2 wt% CaCl₂","5 wt% CaCl₂","10 wt% CaCl₂"], "range": ["#000000","#ff0000","#0000ff"]}, "legend": null},
     "shape": {"field": "s", "type": "nominal", "scale": {"domain": ["2 wt% CaCl₂","5 wt% CaCl₂","10 wt% CaCl₂"], "range": ["square","circle","triangle-up"]}, "legend": null}}},
  {"data": {"name": "pts"}, "transform": [{"filter": "false"}], "mark": {"type": "point", "filled": true},
   "encoding": {
     "fill": {"field": "s", "type": "nominal", "scale": {"domain": ["s:2 wt% CaCl₂","s:5 wt% CaCl₂","s:10 wt% CaCl₂","s:15 wt% CaCl₂","s:20 wt% CaCl₂","o:2 wt% CaCl₂","o:5 wt% CaCl₂","o:10 wt% CaCl₂","x:"], "range": ["#000000","#ff0000","#0000ff","#008000","#ff8c00","#ffffff","#ffffff","#ffffff","transparent"]}, "legend": {"legendX": 5.25, "legendY": 2.7, "labelOffset": 9, "columnPadding": 8.25, "rowPadding": 4.8, "labelExpr": "slice(datum.label, 2)"}},
     "stroke": {"field": "s", "type": "nominal", "scale": {"domain": ["s:2 wt% CaCl₂","s:5 wt% CaCl₂","s:10 wt% CaCl₂","s:15 wt% CaCl₂","s:20 wt% CaCl₂","o:2 wt% CaCl₂","o:5 wt% CaCl₂","o:10 wt% CaCl₂","x:"], "range": ["#000000","#ff0000","#0000ff","#008000","#ff8c00","#000000","#ff0000","#0000ff","transparent"]}, "legend": {"legendX": 5.25, "legendY": 2.7, "labelOffset": 9, "columnPadding": 8.25, "rowPadding": 4.8, "labelExpr": "slice(datum.label, 2)"}},
     "shape": {"field": "s", "type": "nominal", "scale": {"domain": ["s:2 wt% CaCl₂","s:5 wt% CaCl₂","s:10 wt% CaCl₂","s:15 wt% CaCl₂","s:20 wt% CaCl₂","o:2 wt% CaCl₂","o:5 wt% CaCl₂","o:10 wt% CaCl₂","x:"], "range": [
       "M-1.42,0H-0.12M0.78,0H2.08M-0.12,-0.45H0.78V0.45H-0.12Z",
       "M-1.42,0H-0.17M0.83,0H2.08M0.83,0A0.5,0.5,0,1,1,-0.17,0A0.5,0.5,0,1,1,0.83,0Z",
       "M-1.42,0H-0.02M0.68,0H2.08M0.33,-0.6L0.88,0.42L-0.22,0.42Z",
       "M-1.42,0H-0.02M0.68,0H2.08M0.33,0.6L0.88,-0.42L-0.22,-0.42Z",
       "M-1.42,0H-0.22M0.88,0H2.08M0.33,-0.55L0.88,0L0.33,0.55L-0.22,0Z",
       "M-2.08,0H-0.45M0.45,0H2.08M-0.45,-0.45H0.45V0.45H-0.45Z",
       "M-2.08,0H-0.5M0.5,0H2.08M0.5,0A0.5,0.5,0,1,1,-0.5,0A0.5,0.5,0,1,1,0.5,0Z",
       "M-2.08,0H-0.35M0.35,0H2.08M0,-0.6L0.55,0.42L-0.55,0.42Z",
       "M0,0"]}, "legend": {"legendX": 5.25, "legendY": 2.7, "labelOffset": 9, "columnPadding": 8.25, "rowPadding": 4.8, "labelExpr": "slice(datum.label, 2)"}}}},
  {"data": {"name": "lab"}, "transform": [{"filter": "datum.p=='d'"}], "mark": {"type": "text", "align": "left", "baseline": "middle", "dx": 3, "fontSize": 8, "fontWeight": "bold"},
   "encoding": {"text": {"field": "txt"}, "color": {"field": "s", "type": "nominal", "scale": {"domain": ["2 wt% CaCl₂","5 wt% CaCl₂","10 wt% CaCl₂","15 wt% CaCl₂","20 wt% CaCl₂"], "range": ["#000000","#ff0000","#0000ff","#008000","#ff8c00"]}, "legend": null}}},
  {"data": {"values": [{}]}, "mark": {"type": "text", "text": "After aging at 150 ℃", "align": "left", "baseline": "middle", "fontSize": 13, "fontWeight": "bold", "color": "black"},
   "encoding": {"x": {"datum": -2.1, "type": "quantitative"}, "y": {"datum": 21.7, "type": "quantitative"}}}
 ],
 "resolve": {"scale": {"color": "independent", "shape": "independent", "fill": "independent", "stroke": "independent"}, "legend": {"color": "independent", "shape": "independent", "fill": "independent", "stroke": "independent"}}
}
]
}
